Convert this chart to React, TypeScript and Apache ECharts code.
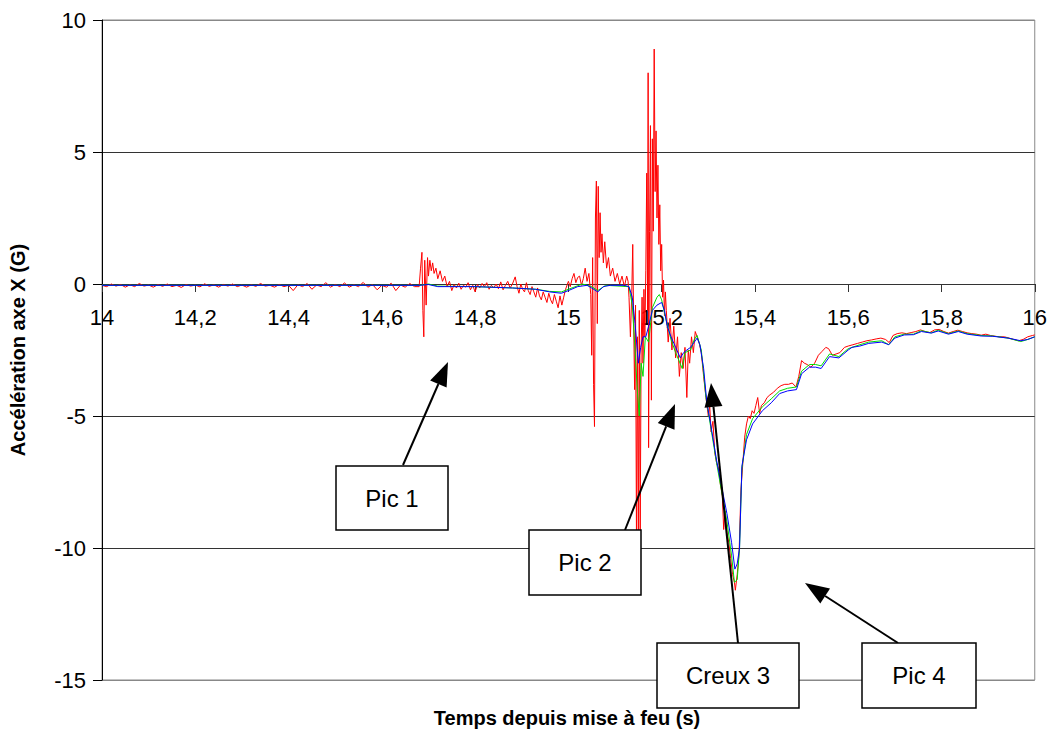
import React, { useEffect, useRef } from "react";
import * as echarts from "echarts";

// ---- Data (time in s, acceleration in G) ----
const xTicks = [14, 14.2, 14.4, 14.6, 14.8, 15, 15.2, 15.4, 15.6, 15.8, 16];

const redPoints: [number, number][] = [
  [14.00, -0.05], [14.01, -0.1], [14.02, 0.0], [14.03, -0.08], [14.04, -0.02], [14.05, -0.12],
  [14.06, -0.03], [14.07, -0.1], [14.08, 0.02], [14.09, -0.08], [14.10, -0.04], [14.11, -0.12],
  [14.12, -0.02], [14.13, -0.09], [14.14, 0.0], [14.15, -0.1], [14.16, -0.05], [14.17, -0.13],
  [14.18, -0.02], [14.19, -0.08], [14.20, -0.04], [14.21, -0.11], [14.22, 0.01], [14.23, -0.09],
  [14.24, -0.03], [14.25, -0.12], [14.26, -0.02], [14.27, -0.08], [14.28, 0.0], [14.29, -0.1],
  [14.30, -0.04], [14.31, -0.12], [14.32, -0.03], [14.33, -0.09], [14.34, 0.02], [14.35, -0.08],
  [14.36, -0.05], [14.37, -0.12], [14.38, -0.02], [14.39, -0.1], [14.40, -0.05], [14.41, -0.25],
  [14.42, -0.03], [14.43, -0.1], [14.44, 0.02], [14.45, -0.2], [14.46, -0.04], [14.47, -0.1],
  [14.48, 0.05], [14.49, -0.12], [14.50, -0.02], [14.51, -0.1], [14.52, 0.04], [14.53, -0.12],
  [14.54, -0.03], [14.55, -0.1], [14.56, 0.06], [14.57, -0.12], [14.58, -0.02], [14.59, -0.22],
  [14.60, -0.05], [14.61, -0.12], [14.62, 0.03], [14.63, -0.25], [14.64, -0.04], [14.65, -0.12],
  [14.66, 0.02], [14.67, -0.1], [14.68, -0.1],
  [14.683, 0.6], [14.686, 1.2], [14.688, -1.0], [14.690, -2.0], [14.692, 0.9], [14.695, -0.8],
  [14.698, 1.0], [14.700, 0.3], [14.703, 0.9], [14.706, 0.5], [14.709, 0.8], [14.712, 0.4],
  [14.716, 0.6], [14.720, 0.2], [14.725, 0.5], [14.730, 0.1], [14.735, 0.3], [14.740, -0.1],
  [14.745, 0.1], [14.750, -0.25], [14.755, -0.02], [14.760, -0.15], [14.765, 0.03], [14.770, -0.2],
  [14.775, -0.05], [14.780, -0.12], [14.785, 0.05], [14.790, -0.22], [14.795, -0.05], [14.800, -0.3],
  [14.805, -0.02], [14.810, -0.15], [14.815, 0.02], [14.820, -0.1], [14.825, 0.05], [14.830, -0.2],
  [14.835, -0.05], [14.840, -0.15], [14.845, 0.0], [14.850, -0.18], [14.855, 0.08], [14.860, -0.22],
  [14.865, -0.05], [14.870, 0.1], [14.875, -0.15], [14.880, 0.0], [14.886, 0.27], [14.890, -0.1],
  [14.894, -0.35], [14.898, 0.0], [14.902, -0.2], [14.906, -0.3], [14.910, 0.05], [14.914, -0.25],
  [14.918, -0.4], [14.922, -0.1], [14.926, -0.3], [14.930, -0.5], [14.934, -0.15], [14.938, -0.45],
  [14.942, -0.6], [14.946, -0.3], [14.950, -0.5], [14.954, -0.7], [14.958, -0.35], [14.962, -0.6],
  [14.966, -0.75], [14.970, -0.4], [14.974, -0.65], [14.978, -0.9], [14.982, -0.45], [14.986, -0.8],
  [14.990, -0.5], [14.994, -0.2], [15.000, 0.1], [15.004, -0.1], [15.008, 0.2], [15.012, 0.4],
  [15.016, 0.05], [15.020, 0.25], [15.024, 0.3], [15.028, -0.05], [15.032, 0.2], [15.036, 0.6],
  [15.040, 0.1], [15.044, 0.4], [15.048, -0.4],
  [15.050, -2.7], [15.052, 1.0], [15.054, -3.8], [15.056, -5.4], [15.058, 2.5], [15.060, 3.9],
  [15.062, -1.5], [15.064, 3.7], [15.066, 1.0], [15.068, 2.7], [15.070, 1.2], [15.072, 1.9],
  [15.075, 0.8], [15.078, 1.6], [15.082, 0.6], [15.086, 1.0], [15.090, 0.3], [15.095, 0.6],
  [15.100, 0.1], [15.105, 0.4], [15.110, 0.0], [15.115, 0.3], [15.120, -0.1], [15.125, 0.3],
  [15.128, 0.1], [15.130, -0.5], [15.133, -2.0], [15.136, -0.3], [15.138, 1.5], [15.140, -1.5],
  [15.142, -4.0], [15.144, -0.8], [15.146, -9.7], [15.148, -2.0], [15.150, -9.8], [15.152, -1.0],
  [15.154, -9.5], [15.156, -2.5], [15.158, -0.5], [15.160, -3.0], [15.162, -0.2], [15.164, -2.0],
  [15.166, 0.5], [15.168, 4.2], [15.170, -1.0], [15.171, 8.0], [15.172, -6.2], [15.174, 2.0],
  [15.176, 6.0], [15.178, -4.4], [15.180, 5.5], [15.182, 2.0], [15.184, 8.9], [15.186, 3.5],
  [15.188, 5.8], [15.190, 2.5], [15.192, 4.5], [15.194, 1.5], [15.196, 3.0], [15.198, 0.5],
  [15.200, 1.5], [15.202, -0.5], [15.204, 0.15], [15.206, -1.2], [15.208, -0.3], [15.210, -1.0],
  [15.214, -2.2], [15.218, -1.3], [15.222, -2.5], [15.226, -1.6], [15.230, -2.8], [15.234, -2.0],
  [15.238, -3.5], [15.242, -2.6], [15.246, -3.2], [15.250, -2.4], [15.254, -4.3], [15.257, -2.5],
  [15.260, -3.0], [15.264, -2.0], [15.268, -2.6], [15.272, -1.8], [15.276, -2.0], [15.280, -2.2],
  [15.285, -2.6], [15.290, -3.5], [15.295, -4.3], [15.300, -5.0], [15.303, -4.6], [15.306, -5.6],
  [15.310, -5.2], [15.314, -6.4], [15.318, -6.8], [15.322, -7.0], [15.326, -7.6], [15.330, -8.0],
  [15.333, -9.3], [15.336, -8.6], [15.340, -9.4], [15.344, -9.8], [15.348, -10.4], [15.352, -11.0],
  [15.356, -11.3], [15.358, -11.6], [15.362, -11.0], [15.366, -10.2], [15.370, -7.8], [15.374, -6.8],
  [15.378, -5.8], [15.382, -5.3], [15.386, -5.0], [15.390, -5.1], [15.394, -4.8], [15.398, -4.9],
  [15.402, -4.6], [15.406, -4.3], [15.410, -4.9], [15.414, -4.6], [15.420, -4.5], [15.426, -4.3],
  [15.432, -4.2], [15.440, -4.1], [15.448, -3.95], [15.456, -3.85], [15.464, -3.8], [15.472, -3.8],
  [15.480, -3.75], [15.488, -3.9], [15.494, -3.5], [15.500, -2.9], [15.506, -3.0], [15.512, -3.05],
  [15.520, -3.15], [15.528, -3.0], [15.536, -2.7], [15.544, -2.55], [15.552, -2.4], [15.558, -2.45],
  [15.566, -2.7], [15.574, -2.65], [15.582, -2.6], [15.592, -2.4], [15.600, -2.35], [15.610, -2.3],
  [15.620, -2.25], [15.630, -2.2], [15.640, -2.15], [15.650, -2.12], [15.660, -2.08], [15.670, -2.05],
  [15.680, -2.1], [15.688, -2.22], [15.696, -1.95], [15.705, -1.88], [15.715, -1.85], [15.725, -1.88],
  [15.735, -1.84], [15.745, -1.8], [15.755, -1.74], [15.765, -1.8], [15.775, -1.84], [15.785, -1.74],
  [15.795, -1.72], [15.805, -1.8], [15.815, -1.86], [15.825, -1.8], [15.835, -1.75], [15.845, -1.8],
  [15.855, -1.85], [15.865, -1.88], [15.875, -1.9], [15.885, -1.94], [15.895, -1.9], [15.905, -1.95],
  [15.915, -1.98], [15.925, -2.0], [15.935, -2.0], [15.945, -2.05], [15.955, -2.1], [15.965, -2.15],
  [15.975, -2.1], [15.985, -2.0], [15.995, -1.95], [16.0, -1.93],
];

const greenPoints: [number, number][] = [
  [14.0, -0.05], [14.68, -0.05], [14.70, 0.0], [14.72, -0.08], [14.80, -0.1], [14.88, -0.15],
  [14.93, -0.2], [14.96, -0.28], [14.985, -0.3], [15.0, -0.2], [15.03, 0.0], [15.05, -0.1],
  [15.063, -0.25], [15.08, -0.05], [15.13, -0.1], [15.137, -0.8], [15.143, -2.5], [15.148, -4.1],
  [15.152, -5.0], [15.156, -3.0], [15.16, -3.5], [15.165, -2.0], [15.172, -2.2], [15.18, -0.9],
  [15.19, -0.5], [15.195, -0.4], [15.2, -0.6], [15.21, -1.4], [15.22, -2.1], [15.23, -2.6],
  [15.244, -3.2], [15.25, -2.6], [15.262, -2.5], [15.27, -2.1], [15.276, -1.95], [15.285, -2.5],
  [15.295, -4.3], [15.305, -5.4], [15.318, -6.8], [15.33, -8.0], [15.34, -9.0], [15.35, -10.3],
  [15.356, -11.3], [15.362, -11.2], [15.367, -10.0], [15.372, -7.0], [15.382, -5.7], [15.395, -5.1],
  [15.416, -4.65], [15.435, -4.35], [15.453, -4.05], [15.47, -3.95], [15.489, -3.9], [15.5, -3.3],
  [15.517, -3.05], [15.53, -3.05], [15.542, -3.1], [15.56, -2.65], [15.58, -2.75], [15.6, -2.45],
  [15.625, -2.3], [15.644, -2.2], [15.672, -2.15], [15.687, -2.3], [15.7, -2.0], [15.72, -1.9],
  [15.74, -1.9], [15.757, -1.77], [15.778, -1.85], [15.793, -1.75], [15.815, -1.88], [15.836, -1.78],
  [15.855, -1.88], [15.885, -1.95], [15.91, -1.97], [15.943, -2.05], [15.97, -2.18], [15.985, -2.1],
  [16.0, -2.0],
];

const bluePoints: [number, number][] = [
  [14.0, -0.05], [14.68, -0.05], [14.70, -0.02], [14.72, -0.1], [14.80, -0.1], [14.88, -0.15],
  [14.93, -0.2], [14.96, -0.3], [14.985, -0.35], [15.0, -0.25], [15.02, -0.1], [15.04, -0.05],
  [15.05, -0.15], [15.063, -0.3], [15.075, -0.1], [15.09, -0.05], [15.12, -0.05], [15.13, -0.1],
  [15.137, -0.5], [15.143, -1.5], [15.15, -3.0], [15.155, -2.4], [15.16, -2.0], [15.166, -2.0],
  [15.172, -1.6], [15.18, -1.0], [15.19, -0.8], [15.2, -0.7], [15.206, -1.0], [15.212, -1.6],
  [15.22, -2.0], [15.23, -2.4], [15.24, -2.8], [15.247, -2.6], [15.254, -2.5], [15.262, -2.4],
  [15.27, -2.2], [15.276, -2.05], [15.282, -2.3], [15.29, -3.2], [15.297, -4.5], [15.305, -5.3],
  [15.318, -6.7], [15.33, -7.8], [15.34, -8.7], [15.35, -9.8], [15.357, -10.8], [15.362, -10.6],
  [15.367, -10.0], [15.372, -6.9], [15.382, -5.9], [15.395, -5.3], [15.416, -4.8], [15.435, -4.5],
  [15.453, -4.15], [15.47, -4.05], [15.489, -4.0], [15.5, -3.4], [15.517, -3.15], [15.53, -3.15],
  [15.542, -3.2], [15.56, -2.75], [15.58, -2.8], [15.6, -2.5], [15.608, -2.4], [15.625, -2.35],
  [15.644, -2.25], [15.672, -2.2], [15.687, -2.3], [15.7, -2.05], [15.72, -1.93], [15.74, -1.92],
  [15.757, -1.8], [15.778, -1.86], [15.793, -1.78], [15.815, -1.9], [15.836, -1.8], [15.855, -1.9],
  [15.885, -1.97], [15.91, -1.98], [15.943, -2.05], [15.97, -2.15], [15.985, -2.1], [16.0, -2.0],
];

const annotationLabels = ["Pic 1", "Pic 2", "Creux 3", "Pic 4"];

// ---- Layout (pixels) ----
const GRID_TOP = 20;
const GRID_BOTTOM = 49;
const CHART_H = 729;
const Y_MIN = -15;
const Y_MAX = 10;
const boxes = [
  { x: 336, y: 466, w: 112, h: 64, ax: 403, ay: 465, tx: 448, ty: 362 },
  { x: 529, y: 530, w: 112, h: 65, ax: 625, ay: 530, tx: 675, ty: 404 },
  { x: 657, y: 643, w: 142, h: 65, ax: 738, ay: 643, tx: 711, ty: 383 },
  { x: 862, y: 643, w: 114, h: 65, ax: 898, ay: 643, tx: 805, ty: 583 },
];

const FONT = "'Liberation Sans', Arial, Helvetica, sans-serif";

function arrowGraphics(ax: number, ay: number, tx: number, ty: number) {
  const dx = tx - ax;
  const dy = ty - ay;
  const len = Math.sqrt(dx * dx + dy * dy);
  const ux = dx / len;
  const uy = dy / len;
  const headLen = 24;
  const headHalf = 9;
  const bx = tx - ux * headLen;
  const by = ty - uy * headLen;
  const px = -uy;
  const py = ux;
  return [
    {
      type: "line",
      shape: { x1: ax, y1: ay, x2: bx, y2: by },
      style: { stroke: "#000", lineWidth: 2 },
      z: 100,
    },
    {
      type: "polygon",
      shape: {
        points: [
          [tx, ty],
          [bx + px * headHalf, by + py * headHalf],
          [bx - px * headHalf, by - py * headHalf],
        ],
      },
      style: { fill: "#000" },
      z: 100,
    },
  ];
}

export default function App() {
  const ref = useRef<HTMLDivElement>(null);

  useEffect(() => {
    document.body.style.margin = "0";
    if (!ref.current) return;
    const chart = echarts.init(ref.current, undefined, { renderer: "svg" });

    // distance from the bottom of the plot up to the zero line
    const plotH = CHART_H - GRID_TOP - GRID_BOTTOM;
    const zeroOffset = (plotH * (0 - Y_MIN)) / (Y_MAX - Y_MIN);

    const graphics: any[] = [];
    boxes.forEach((b, i) => {
      graphics.push(...arrowGraphics(b.ax, b.ay, b.tx, b.ty));
      graphics.push({
        type: "rect",
        shape: { x: b.x, y: b.y, width: b.w, height: b.h },
        style: { fill: "#fff", stroke: "#000", lineWidth: 1.5 },
        z: 101,
      });
      graphics.push({
        type: "text",
        x: b.x + b.w / 2,
        y: b.y + b.h / 2,
        style: {
          text: annotationLabels[i],
          fill: "#000",
          font: `24px ${FONT}`,
          align: "center",
          verticalAlign: "middle",
        },
        z: 102,
      });
    });
    graphics.push({
      type: "text",
      x: 567,
      y: 718,
      style: {
        text: "Temps depuis mise à feu (s)",
        fill: "#000",
        font: `bold 20px ${FONT}`,
        align: "center",
        verticalAlign: "middle",
      },
      z: 50,
    });

    chart.setOption({
      animation: false,
      backgroundColor: "#fff",
      grid: {
        left: 98,
        right: 13,
        top: GRID_TOP,
        bottom: GRID_BOTTOM,
        show: true,
        borderColor: "#888",
        borderWidth: 1,
        backgroundColor: "transparent",
      },
      xAxis: {
        type: "value",
        min: xTicks[0],
        max: xTicks[xTicks.length - 1],
        interval: 0.2,
        position: "bottom",
        offset: -zeroOffset,
        axisLine: { show: true, onZero: false, lineStyle: { color: "#333", width: 1 } },
        axisTick: { show: true, inside: false, length: 8, lineStyle: { color: "#333" } },
        axisLabel: {
          margin: 22,
          fontSize: 22,
          fontFamily: FONT,
          color: "#000",
          formatter: (v: number) => String(Math.round(v * 10) / 10).replace(".", ","),
        },
        splitLine: { show: false },
      },
      yAxis: {
        type: "value",
        min: Y_MIN,
        max: Y_MAX,
        interval: 5,
        name: "Accélération axe X (G)",
        nameLocation: "middle",
        nameGap: 74,
        nameTextStyle: { fontSize: 20, fontWeight: "bold", fontFamily: FONT, color: "#000" },
        axisLine: { show: true, onZero: false, lineStyle: { color: "#000", width: 1 } },
        axisTick: { show: true, inside: false, length: 9, lineStyle: { color: "#000" } },
        axisLabel: { margin: 16, fontSize: 22, fontFamily: FONT, color: "#000" },
        splitLine: {
          show: true,
          lineStyle: { color: ["#888", "#333", "#333", "#333", "#333", "#888"], width: 1 },
        },
      },
      series: [
        {
          type: "line",
          data: redPoints,
          showSymbol: false,
          symbol: "none",
          lineStyle: { color: "#ff0000", width: 1 },
          itemStyle: { color: "#ff0000" },
          z: 3,
        },
        {
          type: "line",
          data: greenPoints,
          showSymbol: false,
          symbol: "none",
          lineStyle: { color: "#00dd00", width: 1 },
          itemStyle: { color: "#00dd00" },
          z: 4,
        },
        {
          type: "line",
          data: bluePoints,
          showSymbol: false,
          symbol: "none",
          lineStyle: { color: "#0000ff", width: 1 },
          itemStyle: { color: "#0000ff" },
          z: 5,
        },
      ],
      graphic: graphics,
    });

    return () => {
      chart.dispose();
    };
  }, []);

  return <div ref={ref} style={{ width: 1050, height: 729 }} />;
}
